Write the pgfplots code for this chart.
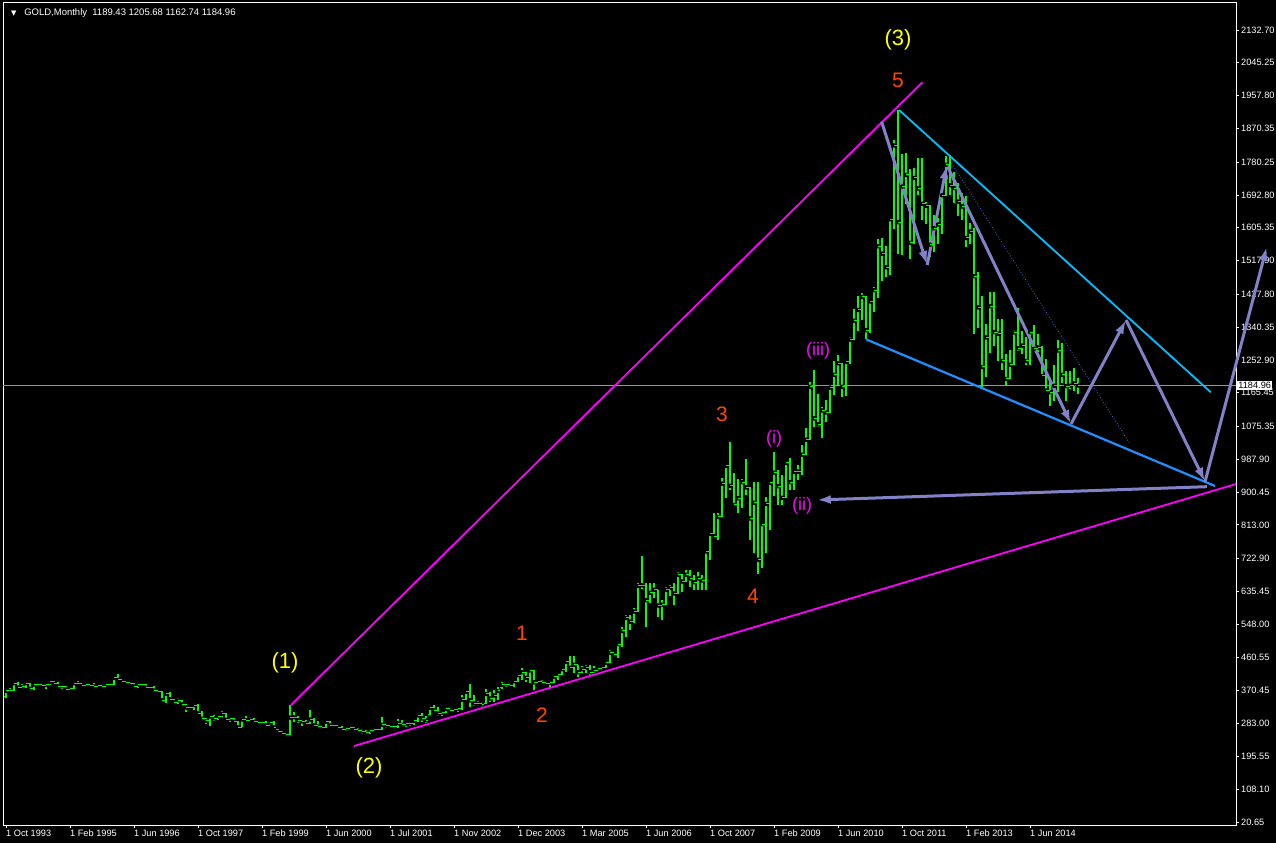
\documentclass[border=0pt]{standalone}
\usepackage{fontspec}
\setmainfont{Liberation Sans}
\newfontfamily\dejavu{DejaVu Sans}
\usepackage{pgfplots}
\pgfplotsset{compat=1.18}
\usepackage{pgfplotstable}
\usetikzlibrary{arrows.meta}
\definecolor{mtgreen}{RGB}{0,255,0}
\definecolor{arrowc}{RGB}{130,130,200}
\definecolor{mag}{RGB}{255,0,255}
\definecolor{cyanl}{RGB}{0,191,255}
\definecolor{bluel}{RGB}{30,144,255}
\definecolor{dotb}{RGB}{65,105,225}
\definecolor{lab}{RGB}{255,69,0}
\definecolor{yel}{RGB}{255,255,0}
\definecolor{pline}{RGB}{150,150,150}

\pgfdeclareplotmark{ohlcopen}{\pgfpathmoveto{\pgfqpoint{-1.6pt}{0pt}}\pgfpathlineto{\pgfqpoint{0pt}{0pt}}\pgfusepathqstroke}
\pgfdeclareplotmark{ohlcclose}{\pgfpathmoveto{\pgfqpoint{0pt}{0pt}}\pgfpathlineto{\pgfqpoint{1.6pt}{0pt}}\pgfusepathqstroke}

\pgfplotstableread{
i o h l c
0 355 374 352 370
1 370 377 365 370
2 370 392 369 391
3 391 395 376 379
4 379 388 376 381
5 381 393 378 391
6 391 392 369 376
7 376 388 373 387
8 387 392 380 386
9 386 389 380 384
10 384 387 376 386
11 386 398 385 394
12 394 396 387 389
13 389 393 382 383
14 383 385 375 383
15 383 384 371 375
16 375 381 372 376
17 376 393 374 391
18 391 396 387 389
19 389 390 381 385
20 385 391 383 388
21 388 389 382 384
22 384 390 380 382
23 382 387 380 384
24 384 389 381 382
25 382 389 382 387
26 387 389 383 387
27 387 408 387 405
28 405 416 396 400
29 400 401 393 396
30 396 397 389 392
31 392 394 389 391
32 391 391 380 382
33 382 389 379 386
34 386 390 384 387
35 387 388 378 379
36 379 384 377 379
37 379 383 370 371
38 371 372 367 369
39 369 369 344 345
40 345 366 339 363
41 363 367 346 348
42 348 349 337 340
43 340 350 336 345
44 345 346 334 334
45 334 334 314 326
46 326 330 318 325
47 325 337 318 332
48 332 336 306 311
49 311 316 294 296
50 296 298 283 290
51 290 306 277 302
52 302 306 289 297
53 297 302 293 301
54 301 316 300 309
55 309 310 290 293
56 293 299 288 296
57 296 297 287 288
58 288 291 272 273
59 273 301 273 294
60 294 302 289 292
61 292 300 290 294
62 294 297 283 288
63 288 292 283 287
64 287 291 282 287
65 287 290 278 279
66 279 291 279 286
67 286 290 270 273
68 268 268 256 261
69 261 263 252 256
70 256 259 251 255
71 255 332 253 299
72 299 313 288 300
73 300 302 285 292
74 292 293 277 289
75 289 292 280 284
76 284 318 281 294
77 294 298 274 278
78 278 289 273 275
79 275 280 268 273
80 273 292 272 288
81 288 291 275 278
82 278 283 272 277
83 277 280 270 273
84 273 276 264 266
85 266 272 263 270
86 270 274 266 272
87 272 273 262 266
88 266 270 260 264
89 264 268 256 262
90 262 266 255 258
91 258 266 255 264
92 264 270 260 266
93 266 272 262 268
94 268 300 266 280
95 280 284 272 278
96 278 283 270 276
97 276 280 268 274
98 274 296 272 284
99 284 292 275 280
100 280 285 274 282
101 282 287 276 284
102 284 292 278 290
103 290 312 287 305
104 305 312 288 297
105 297 302 284 292
106 306 331 305 325
107 325 332 314 318
108 318 328 302 310
109 310 315 302 312
110 312 328 310 322
111 322 324 315 318
112 318 324 315 320
113 320 324 314 322
114 322 359 320 347
115 347 372 345 368
116 368 388 327 345
117 345 358 330 337
118 337 342 331 336
119 336 341 328 334
120 336 374 335 362
121 362 368 341 350
122 350 372 341 358
123 358 381 346 370
124 378 395 376 386
125 386 390 381 388
126 388 390 381 385
127 385 401 381 396
128 396 417 395 412
129 412 430 400 420
130 420 421 395 405
131 405 432 392 425
132 425 426 373 393
133 393 399 390 395
134 395 399 390 392
135 392 395 386 390
136 390 395 381 392
137 392 412 390 408
138 408 419 399 415
139 415 430 413 428
140 428 453 421 448
141 448 462 425 432
142 432 462 417 440
143 440 440 408 420
144 420 436 419 428
145 428 439 417 432
146 432 439 413 420
147 420 437 417 425
148 425 435 424 430
149 430 435 426 432
150 432 448 430 445
151 445 479 444 472
152 472 475 462 468
153 468 501 457 495
154 495 541 488 530
155 530 572 514 565
156 565 573 532 555
157 555 591 552 582
158 582 658 580 650
159 650 730 643 652
160 652 657 541 612
161 612 658 604 632
162 632 657 617 640
163 640 640 568 598
164 598 612 559 600
165 600 648 598 640
166 640 653 622 645
167 645 657 599 630
168 630 688 628 680
169 680 683 635 662
170 662 693 660 680
171 680 692 648 670
172 670 679 639 660
173 660 688 639 670
174 670 679 639 665
175 665 746 639 742
176 742 795 719 789
177 789 845 781 783
178 783 845 773 834
179 834 937 834 923
180 923 974 884 970
181 970 1034 906 917
182 917 952 862 866
183 866 934 844 884
184 884 934 857 927
185 927 988 893 913
186 913 915 773 830
187 830 926 737 872
188 872 928 681 720
189 720 817 699 815
190 815 888 739 869
191 869 928 799 925
192 925 1006 890 952
193 952 960 865 916
194 916 945 866 885
195 885 980 884 978
196 978 991 906 927
197 927 959 906 954
198 954 973 932 955
199 955 1026 946 1000
200 1000 1070 1000 1040
201 1040 1195 1040 1181
202 1181 1227 1075 1097
203 1097 1162 1075 1081
204 1081 1127 1044 1118
205 1118 1146 1088 1113
206 1113 1181 1111 1179
207 1179 1249 1158 1213
208 1213 1265 1187 1244
209 1244 1245 1155 1181
210 1181 1251 1157 1248
211 1248 1315 1243 1307
212 1307 1388 1307 1357
213 1357 1424 1330 1386
214 1386 1432 1360 1421
215 1421 1424 1308 1332
216 1332 1411 1324 1409
217 1409 1447 1381 1439
218 1439 1575 1418 1556
219 1556 1577 1462 1536
220 1536 1557 1474 1500
221 1500 1632 1478 1628
222 1628 1840 1603 1825
223 1825 1920 1534 1620
224 1620 1803 1533 1715
225 1715 1804 1669 1746
226 1746 1763 1523 1565
227 1565 1764 1563 1738
228 1738 1791 1692 1710
229 1710 1792 1627 1669
230 1669 1675 1614 1664
231 1664 1665 1527 1560
232 1560 1640 1540 1604
233 1604 1631 1563 1614
234 1614 1693 1588 1692
235 1692 1796 1691 1773
236 1773 1798 1692 1719
237 1719 1755 1672 1711
238 1711 1724 1636 1675
239 1675 1697 1626 1662
240 1662 1691 1555 1578
241 1578 1617 1562 1595
242 1595 1605 1321 1476
243 1476 1487 1338 1393
244 1393 1424 1180 1234
245 1234 1348 1208 1313
246 1313 1434 1271 1396
247 1396 1434 1291 1327
248 1327 1362 1251 1323
249 1323 1362 1227 1250
250 1250 1268 1182 1202
251 1202 1280 1201 1240
252 1240 1332 1240 1326
253 1326 1392 1277 1284
254 1284 1331 1268 1291
255 1291 1315 1240 1250
256 1250 1332 1240 1327
257 1327 1345 1281 1282
258 1282 1322 1273 1286
259 1286 1290 1205 1210
260 1210 1255 1180 1171
261 1171 1205 1131 1167
262 1167 1238 1142 1184
263 1184 1307 1167 1278
264 1278 1298 1191 1213
265 1213 1224 1142 1183
266 1183 1224 1175 1184
267 1184 1232 1170 1190
268 1189.43 1205.68 1162.74 1184.96
}\gold

\begin{document}
\begin{tikzpicture}
\fill[black] (-3pt,-18pt) rectangle (1273pt,825pt);
\path[use as bounding box] (-3pt,-18pt) rectangle (1273pt,825pt);
\begin{axis}[
  at={(0pt,0pt)}, anchor=south west,
  scale only axis, width=1233pt, height=823pt,
  xmin=-0.75, xmax=307.5, ymin=12.65, ymax=2207.3,
  clip=false,
  axis line style={white, line width=0.9pt},
  tick style={white, line width=0.8pt},
  major tick length=3pt,
  tick align=outside,
  xtick pos=left, ytick pos=right,
  yticklabel pos=right,
  ytick={2132.70,2045.25,1957.80,1870.35,1780.25,1692.80,1605.35,1517.90,1427.80,1340.35,1252.90,1165.45,1075.35,987.90,900.45,813.00,722.90,635.45,548.00,460.55,370.45,283.00,195.55,108.10,20.65},
  yticklabels={2132.70,2045.25,1957.80,1870.35,1780.25,1692.80,1605.35,1517.90,1427.80,1340.35,1252.90,1165.45,1075.35,987.90,900.45,813.00,722.90,635.45,548.00,460.55,370.45,283.00,195.55,108.10,20.65},
  xtick={0,16,32,48,64,80,96,112,128,144,160,176,192,208,224,240,256},
  xticklabels={1 Oct 1993,1 Feb 1995,1 Jun 1996,1 Oct 1997,1 Feb 1999,1 Jun 2000,1 Jul 2001,1 Nov 2002,1 Dec 2003,1 Mar 2005,1 Jun 2006,1 Oct 2007,1 Feb 2009,1 Jun 2010,1 Oct 2011,1 Feb 2013,1 Jun 2014},
  xticklabel style={anchor=north west, text=white, font=\fontsize{9.2}{10}\selectfont, inner sep=1pt, xshift=-1pt, yshift=-1pt},
  yticklabel style={anchor=west, text=white, font=\fontsize{9.2}{10}\selectfont, inner sep=1pt, xshift=1pt},
]
% current price line
\addplot[pline, line width=0.8pt] coordinates {(-0.75,1184.96) (307.5,1184.96)};
% OHLC bars
\addplot[only marks, mark=none, error bars/.cd, y dir=both, y explicit, error mark=none, error bar style={draw=mtgreen, line width=1.1pt}]
  table[x=i, y=c, y error plus expr={\thisrow{h}-\thisrow{c}}, y error minus expr={\thisrow{c}-\thisrow{l}}] {\gold};
\addplot[only marks, mark=ohlcopen, mark options={draw=mtgreen, line width=1pt}] table[x=i, y=o] {\gold};
\addplot[only marks, mark=ohlcclose, mark options={draw=mtgreen, line width=1pt}] table[x=i, y=c] {\gold};
% trend lines
\addplot[mag, line width=1.8pt] coordinates {(71.25,332.6) (229.1,1993.1)};
\addplot[mag, line width=1.8pt] coordinates {(87,223.2) (307.5,921.9)};
\addplot[cyanl, line width=1.8pt] coordinates {(223.25,1919.3) (301.2,1166.5)};
\addplot[bluel, line width=2.2pt] coordinates {(215,1307.7) (302.25,916.6)};
\addplot[dotb, line width=0.8pt, dotted] coordinates {(236.4,1777) (280.8,1032)};
% arrows
\addplot[arrowc, line width=3pt, -{Latex[length=14pt,width=9pt]}] coordinates {(218.9,1888) (230.3,1505.9)};
\addplot[arrowc, line width=3pt, -{Latex[length=14pt,width=9pt]}] coordinates {(230.3,1505.9) (235.2,1772.6)};
\addplot[arrowc, line width=3pt, -{Latex[length=14pt,width=9pt]}] coordinates {(235.2,1772.6) (266.25,1082)};
\addplot[arrowc, line width=3pt, -{Latex[length=14pt,width=9pt]}] coordinates {(266.25,1082) (280,1359.3)};
\addplot[arrowc, line width=3pt, -{Latex[length=14pt,width=9pt]}] coordinates {(280,1359.3) (299.75,928.1)};
\addplot[arrowc, line width=3pt, -{Latex[length=14pt,width=9pt]}] coordinates {(299.75,928.1) (315.2,1554.7)};
\addplot[arrowc, line width=3pt, -{Latex[length=14pt,width=9pt]}] coordinates {(300.2,914.8) (202.7,879.3)};
% labels
\node[text=yel, font=\fontsize{22}{24}\selectfont] at (axis cs:69.75,444.6) {(1)};
\node[text=yel, font=\fontsize{22}{24}\selectfont] at (axis cs:90.75,164.6) {(2)};
\node[text=yel, font=\fontsize{22}{24}\selectfont] at (axis cs:223,2105.9) {(3)};
\node[text=lab, font=\fontsize{21}{23}\selectfont] at (axis cs:223,1999.3) {5};
\node[text=lab, font=\fontsize{21}{23}\selectfont] at (axis cs:129,524.6) {1};
\node[text=lab, font=\fontsize{21}{23}\selectfont] at (axis cs:134,305.9) {2};
\node[text=lab, font=\fontsize{21}{23}\selectfont] at (axis cs:179,1108.6) {3};
\node[text=lab, font=\fontsize{21}{23}\selectfont] at (axis cs:186.75,623.3) {4};
\node[text=mag, font=\fontsize{18}{20}\selectfont] at (axis cs:192,1041.9) {(i)};
\node[text=mag, font=\fontsize{18}{20}\selectfont] at (axis cs:199,863.2) {(ii)};
\node[text=mag, font=\fontsize{18}{20}\selectfont] at (axis cs:203,1276.6) {(iii)};
% header and price box
\node[anchor=west, inner sep=0pt, text=white, font=\fontsize{9.5}{10}\selectfont] at (axis cs:1.2,2178) {{\dejavu\fontsize{7}{8}\selectfont ▼}\ \ \ GOLD,Monthly\ \ 1189.43 1205.68 1162.74 1184.96};
\node[anchor=west, fill=white, text=black, inner sep=1.2pt, font=\fontsize{9.2}{10}\selectfont] at (axis cs:307.5,1184.96) {\hspace{1pt}1184.96};
\end{axis}
\end{tikzpicture}
\end{document}
